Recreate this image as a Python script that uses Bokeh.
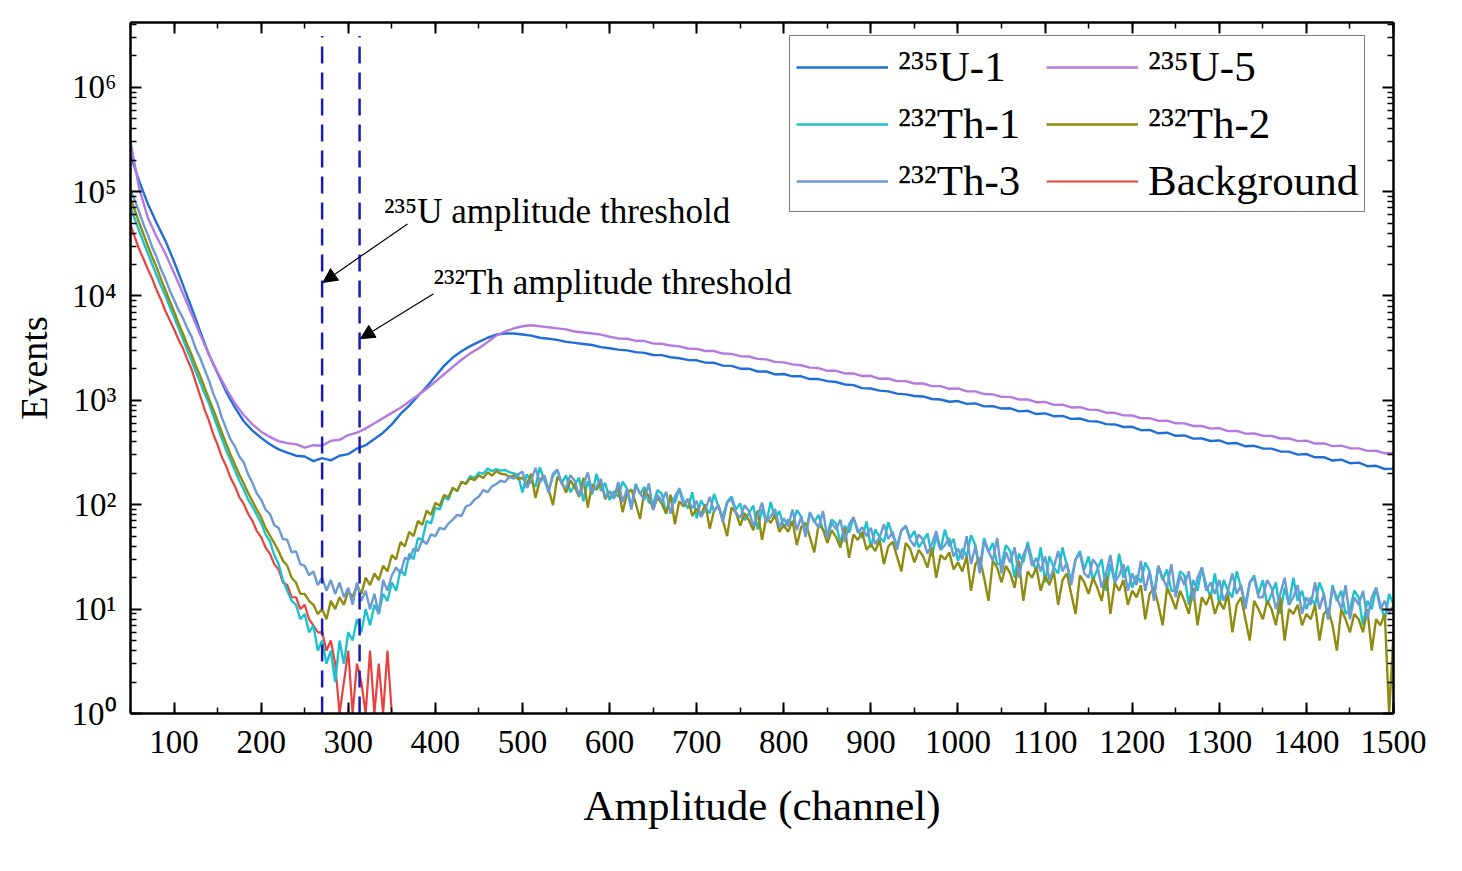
from bokeh.plotting import figure
from bokeh.models import (Range1d, LinearAxis, LogAxis, SingleIntervalTicker, FixedTicker,
                          CustomJSTickFormatter, Legend, LegendItem, Arrow, NormalHead, Label)
from bokeh.embed import file_html
from bokeh.resources import INLINE

# ---------------- data ----------------
channels_u = list(range(50, 1501, 10))     # U spectra sampled every 10 channels
channels_th = list(range(50, 1501, 5))     # Th spectra sampled every 5 channels
channels_bg = list(range(50, 351, 5))      # background, non-zero part only

u235_1 = [224000, 126000, 75900, 50100, 33900, 21400, 12900, 7760, 4570, 2750,
          1820, 1200, 851, 631, 513, 437, 380, 339, 316, 295,
          290, 262, 280, 266, 295, 305, 345, 372, 427, 490,
          589, 741, 891, 1100, 1350, 1700, 2140, 2570, 2950, 3310,
          3630, 3980, 4270, 4370, 4370, 4270, 4170, 3980, 3890, 3800,
          3630, 3550, 3470, 3390, 3240,
          3160, 3060, 3010, 2900, 2850, 2720, 2710, 2590, 2530, 2440,
          2420, 2300, 2290, 2150, 2140, 2010, 2010, 1890, 1890, 1770,
          1790, 1700, 1700, 1600, 1600, 1530, 1500, 1420, 1400, 1310,
          1300, 1240, 1220, 1160, 1140, 1100, 1090, 1030, 1020, 970,
          985, 925, 935, 875, 880, 835, 840, 785, 795, 740,
          750, 705, 710, 665, 670, 632, 628, 592, 588, 556,
          558, 518, 522, 484, 490, 458, 461, 430, 431, 408,
          413, 386, 390, 363, 367, 346, 345, 324, 323, 302,
          306, 285, 286, 265, 270, 250, 253, 234, 236, 220,
          222]

u235_5 = [300000, 107000, 56000, 37000, 25500, 16600, 10700, 6760, 4270, 2750,
          1860, 1290, 933, 724, 589, 501, 447, 407, 389, 380,
          352, 372, 368, 410, 418, 465, 490, 537, 603, 676,
          759, 851, 977, 1120, 1290, 1510, 1780, 2090, 2450, 2820,
          3160, 3630, 4170, 4570, 4900, 5130, 5250, 5130, 5010, 4900,
          4790, 4570, 4470, 4370, 4270,
          4070, 3920, 3890, 3720, 3700, 3510, 3490, 3350, 3290, 3140,
          3110, 2970, 2970, 2810, 2790, 2650, 2630, 2500, 2470, 2340,
          2310, 2210, 2170, 2060, 2040, 1920, 1920, 1810, 1810, 1710,
          1720, 1610, 1620, 1530, 1530, 1450, 1450, 1370, 1370, 1290,
          1300, 1220, 1220, 1150, 1140, 1080, 1080, 1020, 1020, 960,
          965, 905, 910, 855, 860, 815, 810, 762, 760, 718,
          716, 676, 675, 636, 640, 603, 602, 568, 568, 536,
          543, 507, 510, 480, 483, 458, 457, 431, 432, 407,
          411, 386, 387, 364, 368, 348, 347, 328, 329, 311,
          312]

th232_1 = [71000, 54500, 42000, 32500, 25500, 20000, 15800, 12500, 10100, 7900,
           6300, 4950, 3880, 3050, 2420, 1880, 1490, 1170, 940, 720,
           555, 425, 330, 265, 212, 170, 140, 112, 96, 80,
           67, 52, 45, 33, 27, 19, 15, 12, 11, 8,
           9, 6, 7, 4, 5, 3, 4, 2, 5, 3,
           6, 5, 8, 6, 10, 7, 11, 9, 14, 12,
           18, 15, 24, 21, 34, 30, 48, 46, 70, 66,
           94, 90, 118, 112, 144, 136, 165, 160, 188, 180,
           204, 198, 222, 210, 220, 212, 215, 205, 200, 192,
           131, 196, 166, 149, 228, 172, 137, 189, 214, 161,
           191, 132, 154, 182, 108, 169, 126, 197, 136, 162,
           111, 135, 119, 166, 143, 98, 158, 127, 148, 106,
           101, 138, 127, 83, 121, 104, 144, 109, 92, 132,
           74, 110, 93, 83, 127, 96, 76, 106, 120, 90,
           103, 71, 83, 98, 58, 91, 68, 106, 73, 87,
           60, 72, 64, 89, 77, 53, 85, 68, 80, 57,
           53, 72, 66, 43, 63, 54, 75, 57, 48, 69,
           39, 58, 49, 44, 68, 51, 41, 56, 63, 48,
           56, 39, 45, 53, 32, 50, 37, 58, 40, 47,
           29, 38, 32, 51, 41, 24, 48, 35, 43, 27,
           27, 41, 36, 20, 34, 28, 44, 30, 23, 39,
           18, 32, 25, 22, 39, 26, 19, 30, 36, 24,
           32, 19, 24, 30, 15, 27, 18, 34, 20, 26,
           16, 21, 18, 28, 23, 14, 26, 19, 24, 15,
           15, 23, 21, 11, 19, 15, 25, 17, 13, 22,
           11, 19, 15, 13, 23, 16, 11, 18, 21, 14,
           19, 11, 14, 18, 9, 16, 11, 20, 12, 15,
           10, 13, 11, 18, 14, 8, 17, 12, 15, 9,
           10, 15, 13, 7, 12, 10, 16, 11, 8, 14,
           11]

th232_2 = [86000, 66000, 50500, 39000, 30000, 23500, 18800, 14500, 11400, 9000,
           7100, 5550, 4400, 3450, 2760, 2150, 1710, 1330, 1040, 820,
           635, 490, 382, 300, 242, 195, 160, 130, 108, 90,
           76, 60, 51, 43, 36, 29, 26, 20, 18, 14,
           14, 12, 11, 9, 10, 8, 12, 10, 13, 11,
           15, 13, 17, 14, 20, 17, 22, 19, 26, 23,
           33, 30, 44, 40, 55, 50, 70, 64, 88, 80,
           104, 98, 124, 118, 146, 135, 166, 158, 180, 172,
           192, 180, 205, 190, 210, 198, 196, 185, 190, 176,
           182, 157, 198, 116, 173, 190, 140, 99, 185, 165,
           131, 171, 148, 119, 181, 94, 157, 139, 165, 113,
           134, 116, 146, 85, 128, 140, 104, 73, 137, 122,
           90, 118, 102, 82, 125, 65, 108, 96, 114, 78,
           92, 80, 101, 59, 88, 97, 71, 50, 94, 84,
           63, 83, 71, 57, 88, 46, 76, 67, 80, 55,
           64, 55, 70, 41, 61, 67, 49, 35, 65, 58,
           43, 57, 49, 39, 60, 31, 52, 46, 55, 37,
           42, 36, 46, 27, 40, 44, 32, 23, 43, 38,
           28, 37, 32, 25, 39, 20, 33, 30, 35, 24,
           28, 23, 32, 15, 27, 31, 20, 12, 29, 25,
           18, 26, 22, 16, 29, 12, 23, 20, 25, 15,
           21, 17, 23, 11, 19, 22, 14, 9, 21, 18,
           14, 20, 16, 12, 22, 9, 18, 15, 19, 11,
           15, 13, 17, 8, 14, 16, 11, 7, 16, 13,
           10, 15, 12, 9, 16, 7, 13, 11, 14, 9,
           12, 10, 14, 6, 11, 13, 8, 5, 12, 10,
           8, 12, 10, 7, 13, 5, 10, 9, 11, 7,
           9, 8, 11, 5, 9, 10, 7, 4, 10, 8,
           6, 9, 8, 6, 10, 4, 8, 7, 9, 1,
           6]

th232_3 = [104000, 82000, 63500, 48500, 38500, 29200, 23600, 18000, 14600, 11300,
           9200, 7350, 6200, 4950, 4100, 3120, 2540, 1980, 1560, 1160,
           925, 680, 530, 420, 360, 290, 255, 196, 162, 128,
           112, 90, 82, 64, 60, 47, 46, 35, 36, 27,
           26, 21, 23, 17, 20, 15, 19, 14, 18, 13,
           16, 11, 18, 12, 15, 10, 14, 9, 19, 15,
           21, 25, 22, 31, 30, 38, 36, 46, 42, 52,
           50, 60, 58, 66, 72, 80, 78, 96, 100, 112,
           120, 138, 132, 150, 158, 170, 165, 185, 178, 195,
           208, 145, 172, 226, 163, 190, 130, 199, 217, 159,
           144, 192, 170, 122, 154, 204, 133, 149, 176, 118,
           135, 114, 165, 106, 142, 90, 152, 129, 111, 160,
           89, 124, 107, 133, 82, 120, 140, 100, 113, 93,
           109, 76, 90, 119, 86, 100, 68, 105, 114, 84,
           75, 99, 87, 63, 79, 105, 69, 77, 91, 61,
           74, 62, 90, 57, 77, 49, 83, 70, 60, 87,
           48, 67, 58, 72, 44, 65, 76, 54, 61, 50,
           60, 42, 49, 65, 47, 55, 37, 57, 62, 46,
           40, 52, 46, 34, 42, 56, 37, 41, 48, 32,
           38, 30, 50, 27, 40, 22, 45, 36, 29, 48,
           22, 35, 28, 39, 20, 33, 41, 26, 31, 23,
           32, 19, 25, 36, 23, 28, 17, 30, 34, 22,
           20, 30, 26, 16, 22, 33, 18, 21, 27, 15,
           22, 17, 29, 15, 23, 12, 26, 20, 16, 27,
           13, 21, 17, 23, 12, 20, 25, 15, 18, 14,
           19, 12, 15, 22, 14, 17, 10, 18, 20, 13,
           13, 19, 16, 10, 14, 20, 11, 13, 17, 9,
           13, 11, 18, 10, 14, 8, 16, 13, 10, 17,
           8, 13, 11, 15, 8, 13, 16, 10, 12, 9,
           11]

background = [48000, 36500, 28000, 22600, 18000, 14600, 11400, 9200, 7200, 5900,
              4800, 3850, 3180, 2500, 2000, 1480, 1110, 820, 640, 475,
              375, 285, 232, 180, 150, 118, 102, 82, 70, 56,
              49, 39, 34, 27, 24, 18, 17, 13, 13, 10,
              11, 8, 7, 6, 6, 4, 5, 3, 1, 2,
              4, 1, 3, 2, 1, 4, 1, 3, 1, 4,
              1]

thresholds = [270, 313]          # 235U and 232Th amplitude thresholds (channel)
y_major = [10 ** k for k in range(0, 7)]
y_minor = [m * 10 ** k for k in range(0, 7) for m in range(2, 10) if m * 10 ** k < 4.2e6]

series_names = ["\u00b2\u00b3\u2075U-1", "\u00b2\u00b3\u2075U-5", "\u00b2\u00b3\u00b2Th-1",
                "\u00b2\u00b3\u00b2Th-2", "\u00b2\u00b3\u00b2Th-3", "Background"]
colors = {"u1": "#1f6fd6", "u5": "#b47ae0", "th1": "#1cc3cc", "th2": "#8f8c10",
          "th3": "#6b9bd2", "bg": "#e8413f"}

FONT = "Liberation Serif"

# ---------------- figure ----------------
p = figure(width=1446, height=855, x_range=Range1d(50, 1500), y_range=Range1d(1, 4.17e6),
           y_axis_type="log", output_backend="svg", toolbar_location=None,
           min_border_left=130, min_border_right=53, min_border_top=22, min_border_bottom=142)
p.outline_line_color = None
p.grid.visible = False
p.background_fill_color = "white"

bottom_axis = p.below[0]
left_axis = p.left[0]

bottom_axis.ticker = SingleIntervalTicker(interval=100, num_minor_ticks=2)
left_axis.ticker = FixedTicker(ticks=y_major, minor_ticks=y_minor)

sup_code = """
const s = {"0":"\u2070","1":"\u00b9","2":"\u00b2","3":"\u00b3","4":"\u2074","5":"\u2075","6":"\u2076","7":"\u2077","8":"\u2078","9":"\u2079"};
const e = Math.round(Math.log10(tick));
return "10" + String(e).split("").map(c => s[c]).join("");
"""
left_axis.formatter = CustomJSTickFormatter(code=sup_code)

top_axis = LinearAxis(ticker=SingleIntervalTicker(interval=100, num_minor_ticks=2),
                      major_label_text_font_size="8px", major_label_text_alpha=0,
                      major_label_standoff=0)
right_axis = LogAxis(ticker=FixedTicker(ticks=y_major, minor_ticks=y_minor),
                     major_label_text_font_size="8px", major_label_text_alpha=0,
                     major_label_standoff=0)
p.add_layout(top_axis, "above")
p.add_layout(right_axis, "right")

for ax in [bottom_axis, left_axis, top_axis, right_axis]:
    ax.axis_line_width = 2.5
    ax.axis_line_color = "black"
    ax.major_tick_line_width = 2
    ax.minor_tick_line_width = 1.5
    ax.major_tick_line_color = "black"
    ax.minor_tick_line_color = "black"
    ax.major_tick_in = 11
    ax.major_tick_out = 0
    ax.minor_tick_in = 6
    ax.minor_tick_out = 0

bottom_axis.major_label_text_font = FONT
bottom_axis.major_label_text_font_size = "33px"
bottom_axis.major_label_text_color = "black"
bottom_axis.major_label_standoff = 17
bottom_axis.axis_label = "Amplitude (channel)"
bottom_axis.axis_label_text_font = FONT
bottom_axis.axis_label_text_font_size = "43px"
bottom_axis.axis_label_text_font_style = "normal"
bottom_axis.axis_label_text_color = "black"
bottom_axis.axis_label_standoff = 26

left_axis.major_label_text_font = FONT
left_axis.major_label_text_font_size = "33px"
left_axis.major_label_text_color = "black"
left_axis.major_label_standoff = 14
left_axis.axis_label = "Events"
left_axis.axis_label_text_font = FONT
left_axis.axis_label_text_font_size = "38px"
left_axis.axis_label_text_font_style = "normal"
left_axis.axis_label_text_color = "black"
left_axis.axis_label_standoff = 14

# ---------------- spectra ----------------
r_bg = p.line(channels_bg, background, line_color=colors["bg"], line_width=2.2)
r_th1 = p.line(channels_th, th232_1, line_color=colors["th1"], line_width=2.4)
r_th2 = p.line(channels_th, th232_2, line_color=colors["th2"], line_width=2.4)
r_th3 = p.line(channels_th, th232_3, line_color=colors["th3"], line_width=2.4)
r_u1 = p.line(channels_u, u235_1, line_color=colors["u1"], line_width=2.4)
r_u5 = p.line(channels_u, u235_5, line_color=colors["u5"], line_width=2.4)

# threshold dashed lines
p.segment(x0=thresholds, y0=[1, 1], x1=thresholds, y1=[3.1e6, 3.1e6],
          line_color="#1a1ab8", line_width=2.5, line_dash="17 9")

# annotations
p.add_layout(Arrow(end=NormalHead(size=14, fill_color="black", line_color="black"),
                   x_start=368, y_start=4.9e4, x_end=thresholds[0] + 1, y_end=1.35e4,
                   line_color="black", line_width=1.2))
p.add_layout(Arrow(end=NormalHead(size=14, fill_color="black", line_color="black"),
                   x_start=398, y_start=1.05e4, x_end=thresholds[1] + 1, y_end=3.9e3,
                   line_color="black", line_width=1.2))
p.add_layout(Label(x=341, y=6.4e4, text="\u00b2\u00b3\u2075U amplitude threshold",
                   text_font=FONT, text_font_size="35px", text_color="black",
                   text_baseline="alphabetic"))
p.add_layout(Label(x=398, y=1.34e4, text="\u00b2\u00b3\u00b2Th amplitude threshold",
                   text_font=FONT, text_font_size="35px", text_color="black",
                   text_baseline="alphabetic"))

# ---------------- legend ----------------
items = [
    LegendItem(label=series_names[0], renderers=[r_u1]),
    LegendItem(label=series_names[2], renderers=[r_th1]),
    LegendItem(label=series_names[4], renderers=[r_th3]),
    LegendItem(label=series_names[1], renderers=[r_u5]),
    LegendItem(label=series_names[3], renderers=[r_th2]),
    LegendItem(label=series_names[5], renderers=[r_bg]),
]
legend = Legend(items=items, ncols=2, location=(659, 501), margin=0, padding=6, spacing=8,
                glyph_width=92, glyph_height=20, label_standoff=10, label_width=140,
                label_text_font=FONT, label_text_font_size="43px", label_text_color="black",
                border_line_color="black", border_line_width=1.5,
                background_fill_color="white", background_fill_alpha=1.0)
p.add_layout(legend)

with open("out.html", "w", encoding="utf-8") as f:
    f.write(file_html(p, INLINE))
